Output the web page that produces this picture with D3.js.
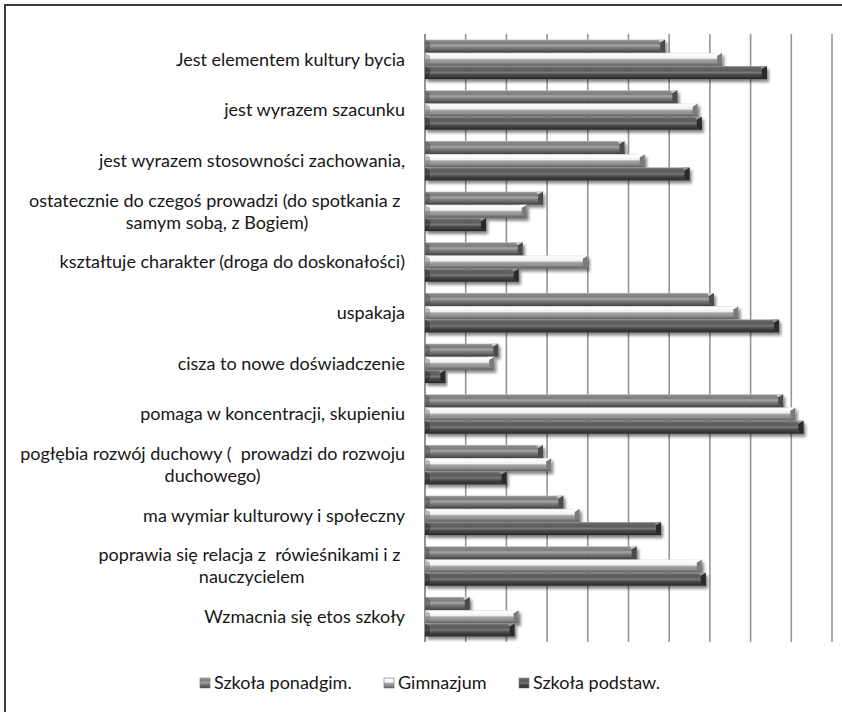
<!DOCTYPE html>
<html>
<head>
<meta charset="utf-8">
<script src="https://cdn.jsdelivr.net/npm/d3@7/dist/d3.min.js"></script>
<style>
  html, body { margin: 0; padding: 0; background: #fff; }
  svg { display: block; }
  text { font-family: Lato, "Open Sans", "Noto Sans", sans-serif; fill: #161616; }
</style>
</head>
<body>
<svg id="chart" width="842" height="712"></svg>
<script>
// Category labels (line breaks where the label wraps)
const categories = [
  "Jest elementem kultury bycia",
  "jest wyrazem szacunku",
  "jest wyrazem stosowności zachowania,",
  "ostatecznie do czegoś prowadzi (do spotkania z \nsamym sobą, z Bogiem)",
  "kształtuje charakter (droga do doskonałości)",
  "uspakaja",
  "cisza to nowe doświadczenie",
  "pomaga w koncentracji, skupieniu",
  "pogłębia rozwój duchowy (  prowadzi do rozwoju\nduchowego)",
  "ma wymiar kulturowy i społeczny",
  "poprawia się relacja z  rówieśnikami i z \nnauczycielem",
  "Wzmacnia się etos szkoły"
];

const seriesNames = ["Szkoła ponadgim.", "Gimnazjum", "Szkoła podstaw."];

// Values (%) per series, in category order
const ponadgim = [59, 62, 49, 29, 24, 71, 18, 88, 29, 34, 52, 11];
const gimnazjum = [73, 67, 54, 25, 40, 77, 17, 91, 31, 38, 68, 23];
const podstaw  = [84, 68, 65, 15, 23, 87, 5, 93, 20, 58, 69, 22];

const seriesValues = [ponadgim, gimnazjum, podstaw];
const xTicks = [0, 10, 20, 30, 40, 50, 60, 70, 80, 90, 100];

const svg = d3.select("#chart");
const defs = svg.append("defs");

// Bevelled-bar shading per series
const gradStops = [
  [[0, "#bdbdbd"], [0.1, "#8a8a8a"], [0.3, "#7e7e7e"], [0.46, "#a6a6a6"], [0.6, "#828282"], [0.85, "#5a5a5a"], [1, "#3c3c3c"]],
  [[0, "#dcdcdc"], [0.1, "#ffffff"], [0.42, "#f0f0f0"], [0.52, "#a8a8a8"], [0.78, "#8c8c8c"], [1, "#5a5a5a"]],
  [[0, "#9a9a9a"], [0.12, "#646464"], [0.35, "#5c5c5c"], [0.5, "#7a7a7a"], [0.65, "#4e4e4e"], [0.88, "#353535"], [1, "#222222"]]
];
const endColors = ["#4c4c4c", "#7a7a7a", "#2a2a2a"];
const capColors = ["#cfcfcf", "#ffffff", "#959595"];

gradStops.forEach((stops, i) => {
  const g = defs.append("linearGradient")
    .attr("id", "grad" + i)
    .attr("x1", 0).attr("y1", 0).attr("x2", 0).attr("y2", 1);
  stops.forEach(s => g.append("stop").attr("offset", s[0]).attr("stop-color", s[1]));
});

const shadow = defs.append("filter").attr("id", "shadow")
  .attr("x", "-5%").attr("y", "-30%").attr("width", "115%").attr("height", "180%");
shadow.append("feDropShadow")
  .attr("dx", 2).attr("dy", 3).attr("stdDeviation", 1.8)
  .attr("flood-color", "#000").attr("flood-opacity", 0.48);

// Outer frame
svg.append("rect")
  .attr("x", 5).attr("y", 5).attr("width", 900).attr("height", 900)
  .attr("fill", "none").attr("stroke", "#3c3c3c").attr("stroke-width", 2);

const plot = { left: 425, right: 832, top: 34, bottom: 642 };

const x = d3.scaleLinear().domain([0, 100]).range([plot.left, plot.right]);
const y = d3.scaleBand().domain(d3.range(categories.length))
  .range([plot.top, plot.bottom]).paddingInner(0.21).paddingOuter(0.105);
const ySub = d3.scaleBand().domain(d3.range(seriesNames.length))
  .range([0, y.bandwidth()]).padding(0.02);

// Vertical gridlines
svg.append("g").selectAll("line").data(xTicks).join("line")
  .attr("x1", d => x(d)).attr("x2", d => x(d))
  .attr("y1", plot.top).attr("y2", plot.bottom)
  .attr("stroke", d => d === 0 ? "#777777" : "#959595")
  .attr("stroke-width", 1.6);

// Bars
const barData = [];
categories.forEach((c, ci) => {
  seriesValues.forEach((vals, si) => {
    barData.push({ ci, si, v: vals[ci] });
  });
});

const bars = svg.append("g").selectAll("g.bar").data(barData).join("g")
  .attr("class", "bar")
  .attr("filter", "url(#shadow)");

bars.each(function(d) {
  const g = d3.select(this);
  const x0 = x(0), x1 = x(d.v);
  const y0 = y(d.ci) + ySub(d.si);
  const h = ySub.bandwidth();
  const w = x1 - x0;
  const b = Math.min(5, w / 2);
  g.append("rect")
    .attr("x", x0).attr("y", y0).attr("width", w).attr("height", h)
    .attr("fill", `url(#grad${d.si})`);
  // right end bevel
  g.append("path")
    .attr("d", `M${x1 - b},${y0 + 3}L${x1},${y0}L${x1},${y0 + h}L${x1 - b},${y0 + h - 3}Z`)
    .attr("fill", endColors[d.si]);
  g.append("path")
    .attr("d", `M${x1 - b},${y0 + 3}L${x1},${y0}L${x1 - b - 2},${y0}Z`)
    .attr("fill", capColors[d.si]);
  // left end bevel
  g.append("path")
    .attr("d", `M${x0},${y0}L${x0 + b},${y0 + 3}L${x0 + b},${y0 + h - 3}L${x0},${y0 + h}Z`)
    .attr("fill", endColors[d.si]).attr("opacity", 0.5);
});

// Category labels, centred lines in a block right-aligned to the axis
const labelRight = 405;
const lineH = 22;
const labels = svg.append("g").attr("font-size", 18);
categories.forEach((c, ci) => {
  const lines = c.split("\n");
  const t = labels.append("text").style("white-space", "pre");
  const spans = lines.map((ln, li) => t.append("tspan").text(ln));
  const widths = spans.map(s => s.node().getComputedTextLength());
  const maxW = d3.max(widths);
  const cy = y(ci) + y.bandwidth() / 2;
  const firstY = cy - (lines.length - 1) * lineH / 2;
  if (lines.length === 1) {
    t.attr("text-anchor", "end");
    spans[0].attr("x", labelRight).attr("y", firstY).attr("dy", "0.35em");
  } else {
    t.attr("text-anchor", "middle");
    spans.forEach((s, li) => s.attr("x", labelRight - maxW / 2).attr("y", firstY + li * lineH).attr("dy", "0.35em"));
  }
});

// Legend
const legendItems = [{ x: 200 }, { x: 384 }, { x: 519 }];
const legend = svg.append("g").attr("font-size", 18);
seriesNames.forEach((name, i) => {
  const lx = legendItems[i].x, ly = 678;
  legend.append("rect")
    .attr("x", lx).attr("y", ly).attr("width", 10).attr("height", 10)
    .attr("fill", `url(#grad${i})`).attr("stroke", "#777").attr("stroke-width", 0.6);
  legend.append("text")
    .attr("x", lx + 14).attr("y", ly + 5).attr("dy", "0.35em")
    .text(name);
});
</script>
</body>
</html>
